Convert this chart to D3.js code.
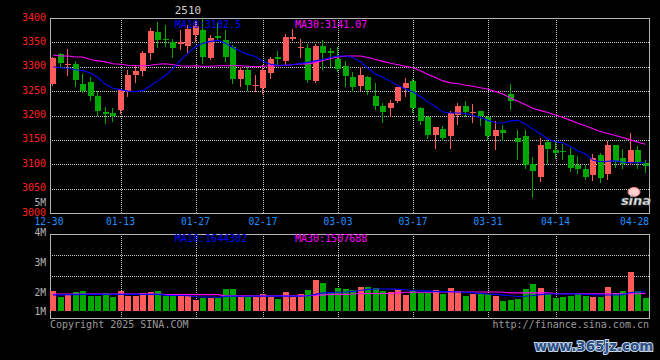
<!DOCTYPE html>
<html><head><meta charset="utf-8">
<script src="https://cdn.jsdelivr.net/npm/d3@7/dist/d3.min.js"></script>
<style>html,body{margin:0;padding:0;background:#000;}svg{display:block}</style>
</head><body><svg id="c" width="660" height="360"></svg>
<script>
const title = "2510";
const dates = ["12-30","12-31","01-02","01-03","01-06","01-07","01-08","01-09","01-10","01-13",
"01-14","01-15","01-16","01-17","01-20","01-21","01-22","01-23","01-24","01-27",
"02-05","02-06","02-07","02-10","02-11","02-12","02-13","02-14","02-17","02-18",
"02-19","02-20","02-21","02-24","02-25","02-26","02-27","02-28","03-03","03-04",
"03-05","03-06","03-07","03-10","03-11","03-12","03-13","03-14","03-17","03-18",
"03-19","03-20","03-21","03-24","03-25","03-26","03-27","03-28","03-31","04-01",
"04-02","04-03","04-07","04-08","04-09","04-10","04-11","04-14","04-15","04-16",
"04-17","04-18","04-21","04-22","04-23","04-24","04-25","04-28","04-29","04-30"];
const tickDates = ["12-30","01-13","01-27","02-17","03-03","03-17","03-31","04-14","04-28"];
const priceTicks = [3400,3350,3300,3250,3200,3150,3100,3050,3000];
const volLabels = ["5M","4M","3M","2M","1M"];
const volLabelValues = [5,4,3,2,1];

const openP = [3264,3326,3305,3306,3265,3269,3241,3208,3206,3212,
3250,3284,3291,3329,3372,3357,3351,3346,3342,3365,
3375,3318,3364,3355,3340,3274,3294,3262,3257,3288,
3320,3312,3357,3340,3339,3271,3342,3333,3315,3301,
3279,3260,3279,3241,3219,3216,3230,3257,3270,3216,
3196,3161,3172,3157,3202,3220,3205,3209,3196,3157,
3171,3245,3154,3158,3101,3073,3146,3130,3128,3118,
3098,3091,3078,3118,3079,3139,3113,3104,3130,3102];
const highP = [3321,3329,3337,3311,3286,3279,3250,3218,3216,3254,
3294,3303,3333,3380,3392,3386,3356,3376,3385,3393,
3399,3365,3390,3376,3344,3299,3299,3284,3303,3321,
3332,3367,3378,3356,3346,3347,3354,3339,3341,3311,
3289,3300,3282,3267,3226,3231,3259,3276,3274,3217,
3200,3177,3178,3210,3226,3230,3224,3210,3200,3189,
3181,3265,3171,3170,3115,3154,3149,3147,3142,3134,
3117,3098,3121,3124,3147,3140,3131,3165,3137,3108];
const lowP = [3262,3299,3284,3260,3248,3231,3202,3184,3188,3206,
3239,3269,3284,3315,3340,3343,3319,3337,3330,3352,
3307,3316,3355,3311,3267,3260,3253,3250,3247,3276,
3305,3305,3355,3321,3268,3268,3295,3301,3291,3260,
3250,3253,3245,3214,3186,3199,3228,3241,3208,3183,
3153,3133,3149,3134,3183,3199,3187,3180,3151,3131,
3149,3213,3111,3092,3032,3065,3103,3112,3110,3086,
3083,3070,3068,3063,3070,3094,3093,3100,3092,3084];
const closeP = [3318,3308,3306,3272,3251,3239,3210,3204,3200,3252,
3284,3292,3329,3374,3354,3354,3338,3351,3378,3384,
3320,3358,3359,3319,3274,3294,3263,3263,3293,3315,
3316,3360,3362,3341,3272,3342,3329,3328,3296,3282,
3258,3284,3252,3219,3208,3226,3258,3267,3216,3189,
3161,3177,3154,3205,3220,3208,3208,3200,3157,3171,
3165,3230,3145,3099,3087,3140,3131,3124,3126,3092,
3091,3074,3113,3072,3139,3105,3101,3130,3104,3096];
const ma10 = [3300,3298,3297,3294,3292,3287,3278,3264,3256,3253,
3250,3249,3251,3261,3271,3282,3296,3314,3328,3341,
3348,3352,3354,3348,3339,3332,3325,3321,3311,3305,
3303,3303,3304,3307,3309,3312,3315,3319,3322,3322,
3319,3310,3297,3285,3278,3270,3261,3255,3248,3239,
3228,3218,3207,3205,3205,3204,3200,3196,3190,3185,
3184,3189,3190,3182,3172,3162,3152,3146,3144,3136,
3127,3121,3108,3105,3106,3107,3104,3103,3103,3102.5];
const ma30 = [3324,3322,3322,3320,3320,3315,3312,3310,3306,3305,
3303,3302,3302,3303,3305,3306,3304,3302,3301,3302,
3301,3301,3302,3302,3302,3302,3301,3300,3301,3302,
3302,3303,3304,3306,3306,3309,3313,3317,3320,3322,
3322,3322,3319,3315,3311,3307,3304,3301,3298,3292,
3284,3278,3271,3267,3265,3262,3260,3257,3254,3249,
3244,3236,3229,3222,3215,3210,3206,3201,3196,3190,
3184,3179,3173,3167,3163,3159,3155,3150,3145,3141.07];
const volume = [1680000,1190000,1490000,1600000,1680000,1310000,1310000,1510000,1170000,1680000,
1310000,1310000,1510000,1600000,1680000,1310000,1310000,1310000,1310000,910000,
1110000,1110000,1110000,1850000,1850000,1220000,1170000,1220000,1430000,1190000,
1000000,1600000,1190000,1430000,1770000,2620000,2400000,1630000,1960000,1850000,
1800000,2020000,2020000,1960000,1680000,1600000,1910000,1330000,1680000,1510000,
1510000,1770000,1490000,1940000,1680000,1250000,1430000,1430000,1430000,1250000,
830000,940000,1000000,1850000,2270000,1940000,1430000,1110000,1190000,1250000,
1490000,1250000,1170000,1170000,2020000,1510000,1710000,3340000,1680000,1110000];
const volMa10 = [1380000,1380000,1400000,1400000,1420000,1420000,1420000,1420000,1420000,1420000,
1420000,1420000,1420000,1420000,1420000,1360000,1330000,1330000,1300000,1220000,
1200000,1200000,1180000,1250000,1270000,1260000,1260000,1270000,1270000,1270000,
1270000,1280000,1270000,1270000,1300000,1420000,1550000,1570000,1600000,1620000,
1680000,1750000,1850000,1880000,1880000,1870000,1850000,1820000,1750000,1720000,
1700000,1680000,1660000,1650000,1630000,1600000,1550000,1500000,1450000,1420000,
1380000,1300000,1240000,1260000,1320000,1400000,1450000,1450000,1450000,1460000,
1450000,1430000,1400000,1370000,1370000,1370000,1400000,1580000,1620000,1644302];
const volMa30 = [1450000,1450000,1450000,1450000,1450000,1450000,1450000,1450000,1450000,1450000,
1450000,1450000,1450000,1450000,1450000,1400000,1400000,1400000,1400000,1400000,
1400000,1400000,1400000,1300000,1300000,1300000,1300000,1300000,1300000,1300000,
1300000,1300000,1300000,1300000,1300000,1350000,1380000,1420000,1420000,1420000,
1450000,1500000,1500000,1500000,1500000,1500000,1550000,1600000,1600000,1600000,
1600000,1630000,1630000,1630000,1630000,1630000,1630000,1630000,1630000,1630000,
1600000,1550000,1550000,1550000,1550000,1550000,1550000,1500000,1470000,1470000,
1470000,1470000,1470000,1470000,1470000,1470000,1480000,1480000,1480000,1507688];

const W = 660, H = 360;
const L = 50, R = 649, T = 18, B = 213, VT = 234, VB = 318, VBase = 311;
const RED = "#ff5a5a", GREEN = "#00a800", GRID = "#c8c8c8", FRAME = "#b4b4b4";
const MONO = "'DejaVu Sans Mono', 'Liberation Mono', monospace";

const svg = d3.select("#c");
svg.append("rect").attr("width", W).attr("height", H).attr("fill", "#000");

const x = d3.scaleBand().domain(dates).range([49.25, 649.25]).padding(0);
const cx = d => x(d) + x.bandwidth() / 2;
const y = d3.scaleLinear().domain([3000, 3400]).range([B, T]);
const yV = d3.scaleLinear().domain([0, 6600000]).range([VBase, VBase - 6.6 * 11.7]);
const yQuarter = d3.scaleLinear().domain([0, 4]).range([VB, VT]);
const yVolLabel = d3.scaleLinear().domain([2, 5]).range([291, 201]);

const data = dates.map((d, i) => ({d, o: openP[i], h: highP[i], l: lowP[i], c: closeP[i],
  v: volume[i], m10: ma10[i], m30: ma30[i], vm10: volMa10[i], vm30: volMa30[i]}));

// grid
const g = svg.append("g").attr("shape-rendering", "crispEdges");
priceTicks.filter(p => p < 3400 && p > 3000).forEach(p => {
  const yy = Math.round(y(p)) + 0.5;
  g.append("line").attr("x1", L).attr("x2", R).attr("y1", yy).attr("y2", yy)
    .attr("stroke", GRID).attr("stroke-dasharray", "1,1");
});
tickDates.slice(1, -1).forEach(d => {
  const xx = Math.round(cx(d)) + 0.5;
  g.append("line").attr("x1", xx).attr("x2", xx).attr("y1", T).attr("y2", B)
    .attr("stroke", GRID).attr("stroke-dasharray", "1,1");
  g.append("line").attr("x1", xx).attr("x2", xx).attr("y1", VT).attr("y2", VB)
    .attr("stroke", GRID).attr("stroke-dasharray", "1,1");
});
[3, 2].forEach(q => {
  const yy = Math.round(yQuarter(q)) + 0.5;
  g.append("line").attr("x1", L).attr("x2", R).attr("y1", yy).attr("y2", yy)
    .attr("stroke", GRID).attr("stroke-dasharray", "1,1");
});
// frames
g.append("rect").attr("x", L + 0.5).attr("y", T + 0.5).attr("width", R - L).attr("height", B - T)
  .attr("fill", "none").attr("stroke", FRAME);
g.append("rect").attr("x", L + 0.5).attr("y", VT + 0.5).attr("width", R - L).attr("height", VB - VT)
  .attr("fill", "none").attr("stroke", FRAME);

// candles and volume bars
const cg = svg.append("g").attr("shape-rendering", "crispEdges");
data.forEach(k => {
  const up = k.c >= k.o;
  const col = up ? RED : GREEN;
  const left = Math.round(cx(k.d) - 3);
  const yt = Math.round(y(Math.max(k.o, k.c)));
  const yb = Math.round(y(Math.min(k.o, k.c)));
  cg.append("line").attr("x1", left + 2.5).attr("x2", left + 2.5)
    .attr("y1", Math.round(y(k.h))).attr("y2", Math.round(y(k.l)) + 1).attr("stroke", col);
  cg.append("rect").attr("x", left).attr("y", yt).attr("width", 6)
    .attr("height", Math.max(1, yb - yt)).attr("fill", col);
  const vy = Math.round(yV(k.v));
  cg.append("rect").attr("x", left).attr("y", vy).attr("width", 6)
    .attr("height", VBase - vy).attr("fill", col);
});

// MA lines
const lineP = key => d3.line().x(k => cx(k.d)).y(k => y(k[key]));
const lineV = key => d3.line().x(k => cx(k.d)).y(k => yV(k[key]));
svg.append("path").datum(data).attr("d", lineP("m30")).attr("fill", "none").attr("stroke", "#ff00ff").attr("stroke-width", 1.1);
svg.append("path").datum(data).attr("d", lineP("m10")).attr("fill", "none").attr("stroke", "#0000ff").attr("stroke-width", 1.1);
svg.append("path").datum(data).attr("d", lineV("vm30")).attr("fill", "none").attr("stroke", "#ff00ff").attr("stroke-width", 1.1);
svg.append("path").datum(data).attr("d", lineV("vm10")).attr("fill", "none").attr("stroke", "#0000ff").attr("stroke-width", 1.1);

// texts
const txt = (t, xx, yy, fill, anchor, size) => svg.append("text").text(t).attr("x", xx).attr("y", yy)
  .attr("fill", fill).attr("text-anchor", anchor || "start").attr("dominant-baseline", "central")
  .attr("font-family", MONO).attr("font-size", (size || 10) + "px");

txt(title, 188, 10, "#cfcfcf", "middle", 11);
txt("MA10:" + ma10[ma10.length - 1], 175, 24, "#0000ff");
txt("MA30:" + ma30[ma30.length - 1], 295, 24, "#ff00ff");
txt("MA10:" + volMa10[volMa10.length - 1], 175, 238, "#0000ff");
txt("MA30:" + volMa30[volMa30.length - 1], 295, 238, "#ff00ff");

priceTicks.forEach(p => txt(String(p), 46, y(p) - 1, "#ff2020", "end"));
volLabels.forEach((s, i) => txt(s, 46, Math.min(yVolLabel(volLabelValues[i]) + 1.5, 311), "#b8b8b8", "end", 9.6));

tickDates.forEach((d, i) => {
  let xx = cx(d), anchor = "middle";
  if (i === 0) xx = L - 1;
  if (i === tickDates.length - 1) { xx = R; anchor = "end"; }
  txt(d, xx, 221, "#1e90ff", anchor, 9.6);
});

txt("Copyright 2025 SINA.COM", 50, 324, "#9a9a9a", "start");
txt("http://finance.sina.com.cn", R, 324, "#9a9a9a", "end");

// sina logo
svg.append("ellipse").attr("cx", 634).attr("cy", 192).attr("rx", 6).attr("ry", 4.5)
  .attr("fill", "#ffd0d0").attr("stroke", "#ff8080").attr("stroke-width", 1);
svg.append("text").text("sina").attr("x", 636).attr("y", 205).attr("text-anchor", "middle")
  .attr("font-family", "'DejaVu Sans', sans-serif").attr("font-weight", "bold").attr("font-style", "italic")
  .attr("font-size", "13px").attr("fill", "#e0e0e0").attr("stroke", "#808080").attr("stroke-width", 0.5);

// watermark
svg.append("text").text("www.365jz.com").attr("x", 594).attr("y", 351).attr("text-anchor", "middle")
  .attr("font-family", "'DejaVu Sans', sans-serif").attr("font-weight", "bold")
  .attr("font-size", "13.5px").attr("fill", "#2c4f86").attr("stroke", "#c8d8ea").attr("stroke-width", 2)
  .attr("paint-order", "stroke");
</script></body></html>
